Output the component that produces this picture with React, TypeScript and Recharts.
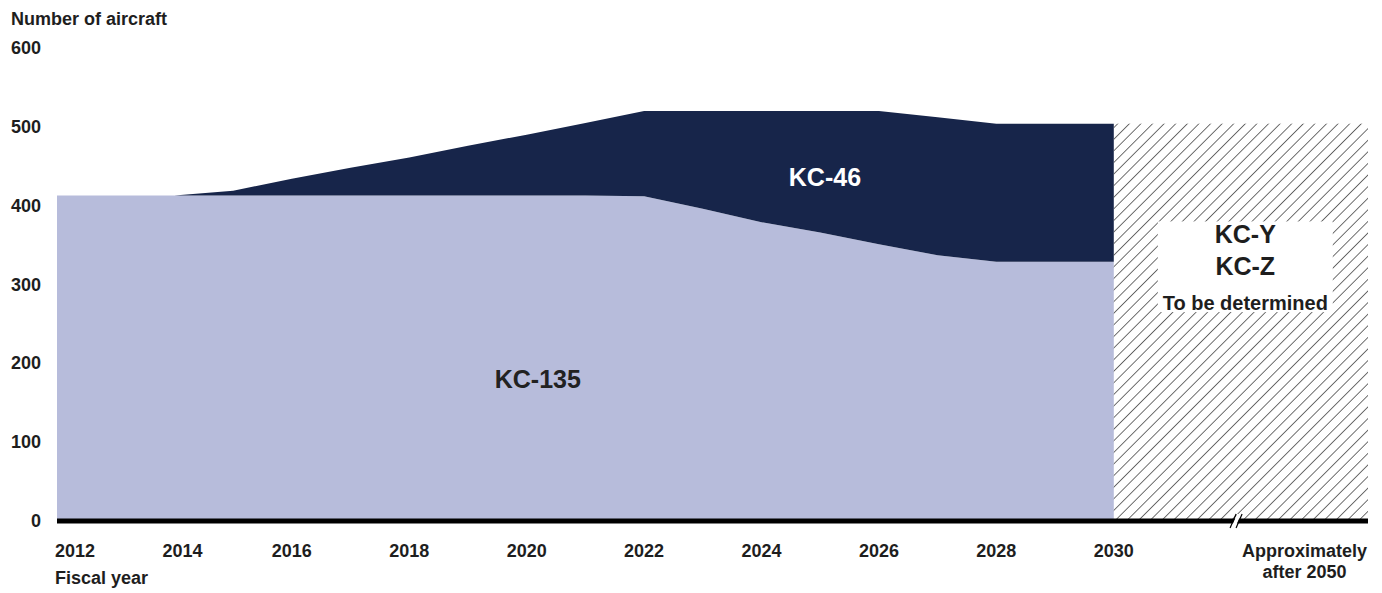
import React from 'react';
import {
  ComposedChart,
  Area,
  XAxis,
  YAxis,
  ReferenceArea,
  ReferenceDot,
} from 'recharts';

const years = [2012, 2013, 2014, 2015, 2016, 2017, 2018, 2019, 2020, 2021, 2022, 2023, 2024, 2025, 2026, 2027, 2028, 2029, 2030];
const kc135 = [413, 413, 413, 413, 413, 413, 413, 413, 413, 413, 412, 396, 379, 366, 351, 337, 329, 329, 329];
const kc46 = [0, 0, 0, 6, 21, 35, 48, 63, 77, 92, 108, 124, 141, 154, 169, 175, 175, 175, 175];

const xTicks = [2012, 2014, 2016, 2018, 2020, 2022, 2024, 2026, 2028, 2030];
const yTicks = [0, 100, 200, 300, 400, 500, 600];
const futureTickLabel = ['Approximately', 'after 2050'];
const futureBoxLabel = ['KC-Y', 'KC-Z', 'To be determined'];

// x positions past 2030 are not real years, just room for the "after 2050" block
const X_END = 2034.33;
const FUTURE_TICK = 2033.25;
const BREAK_POS = 2032.1;

const LIGHT = '#b7bcdb';
const DARK = '#17254a';
const TEXT = '#1e1e1e';
const FONT = "'Liberation Sans', Arial, sans-serif";

const data = years.map((year, i) => ({ year, kc135: kc135[i], kc46: kc46[i] }));
const lastTotal = kc135[kc135.length - 1] + kc46[kc46.length - 1];

const YTick = ({ y, payload }: any) => (
  <text x={41} y={y} dy={6} textAnchor="end" fontSize={18} fontWeight="bold" fill={TEXT}>
    {payload.value}
  </text>
);

const XTick = ({ x, payload }: any) => {
  if (payload.value === FUTURE_TICK) {
    return (
      <text x={x} y={557} textAnchor="middle" fontSize={18} fontWeight="bold" fill={TEXT}>
        <tspan x={x}>{futureTickLabel[0]}</tspan>
        <tspan x={x} dy={21}>{futureTickLabel[1]}</tspan>
      </text>
    );
  }
  const first = payload.value === xTicks[0];
  const nudge = payload.value === 2014 ? 8 : 0;
  return (
    <text
      x={first ? x - 2 : x + nudge}
      y={557}
      textAnchor={first ? 'start' : 'middle'}
      fontSize={18}
      fontWeight="bold"
      fill={TEXT}
    >
      {payload.value}
    </text>
  );
};

const HatchShape = (props: any) => {
  const { x, y, width, height } = props;
  return (
    <g>
      <defs>
        <pattern id="hatch" patternUnits="userSpaceOnUse" width={8.2} height={10} patternTransform="rotate(45)">
          <line x1={0} y1={0} x2={0} y2={10} stroke="#333" strokeWidth={1.4} />
        </pattern>
      </defs>
      <rect x={x} y={y} width={width} height={height} fill="url(#hatch)" />
    </g>
  );
};

const FutureBox = (props: any) => {
  const { x, y, width, height } = props;
  const cx = x + width / 2;
  return (
    <g>
      <rect x={x} y={y} width={width} height={height} fill="#fff" />
      <text x={cx} y={y + 22} textAnchor="middle" fontSize={25} fontWeight="bold" fill={TEXT}>
        {futureBoxLabel[0]}
      </text>
      <text x={cx} y={y + 54} textAnchor="middle" fontSize={25} fontWeight="bold" fill={TEXT}>
        {futureBoxLabel[1]}
      </text>
      <text x={cx} y={y + 89} textAnchor="middle" fontSize={20} fontWeight="bold" fill={TEXT}>
        {futureBoxLabel[2]}
      </text>
    </g>
  );
};

const AxisBreak = ({ cx, cy }: any) => (
  <g>
    <polygon points={`${cx - 6},${cy + 7} ${cx},${cy - 7} ${cx + 4},${cy - 7} ${cx - 2},${cy + 7}`} fill="#fff" />
    <line x1={cx - 7} y1={cy + 7} x2={cx - 1} y2={cy - 7} stroke="#000" strokeWidth={1.2} />
    <line x1={cx - 1} y1={cy + 7} x2={cx + 5} y2={cy - 7} stroke="#000" strokeWidth={1.2} />
  </g>
);

const SeriesLabel = (text: string, color: string) => ({ cx, cy }: any) => (
  <text x={cx} y={cy} dy={9} textAnchor="middle" fontSize={25} fontWeight="bold" fill={color}>
    {text}
  </text>
);

const App: React.FC = () => {
  return (
    <div style={{ position: 'absolute', left: 0, top: 0, width: 1382, height: 593, fontFamily: FONT }}>
      <svg width={1382} height={593} style={{ position: 'absolute', left: 0, top: 0, pointerEvents: 'none' }}>
        <text x={11} y={25} fontSize={18} fontWeight="bold" fill={TEXT} fontFamily={FONT}>
          Number of aircraft
        </text>
        <text x={55} y={584} fontSize={18} fontWeight="bold" fill={TEXT} fontFamily={FONT}>
          Fiscal year
        </text>
      </svg>
      <ComposedChart
        width={1382}
        height={593}
        data={data}
        margin={{ top: 48, right: 14, bottom: 0, left: 0 }}
        style={{ fontFamily: FONT }}
      >
        <XAxis
          dataKey="year"
          type="number"
          domain={[2012, X_END]}
          ticks={[...xTicks, FUTURE_TICK]}
          interval={0}
          height={72}
          tickLine={false}
          axisLine={{ stroke: '#000', strokeWidth: 5 }}
          tick={<XTick />}
        />
        <YAxis
          domain={[0, 600]}
          ticks={yTicks}
          width={57}
          axisLine={false}
          tickLine={false}
          tick={<YTick />}
        />
        <Area
          type="linear"
          dataKey="kc135"
          stackId="fleet"
          stroke="none"
          fill={LIGHT}
          fillOpacity={1}
          isAnimationActive={false}
        />
        <Area
          type="linear"
          dataKey="kc46"
          stackId="fleet"
          stroke="none"
          fill={DARK}
          fillOpacity={1}
          isAnimationActive={false}
        />
        <ReferenceArea x1={2030} x2={X_END} y1={0} y2={lastTotal} shape={<HatchShape />} />
        <ReferenceArea x1={2030.75} x2={2033.73} y1={265} y2={380} shape={<FutureBox />} />
        <ReferenceDot x={2020.19} y={180} r={0} shape={SeriesLabel('KC-135', '#222')} />
        <ReferenceDot x={2025.08} y={436} r={0} shape={SeriesLabel('KC-46', '#fff')} />
        <ReferenceDot x={BREAK_POS} y={0} r={0} shape={<AxisBreak />} />
      </ComposedChart>
    </div>
  );
};

export default App;
